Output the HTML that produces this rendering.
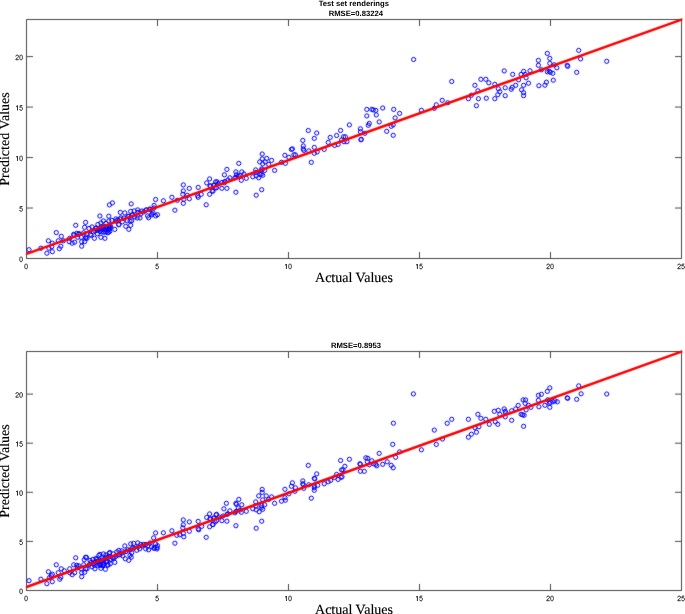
<!DOCTYPE html>
<html><head><meta charset="utf-8"><style>
html,body{margin:0;padding:0;background:#fff;width:685px;height:614px;overflow:hidden}
svg{display:block;will-change:transform;text-rendering:geometricPrecision}
</style></head><body>
<svg width="685" height="614" viewBox="0 0 685 614">
<defs><filter id="soft" x="0" y="0" width="685" height="614" filterUnits="userSpaceOnUse" color-interpolation-filters="sRGB"><feConvolveMatrix order="3" kernelMatrix="1 2 1 2 28 2 1 2 1" divisor="40" edgeMode="duplicate" preserveAlpha="true"/></filter></defs>
<g filter="url(#soft)">
<rect width="685" height="614" fill="#fff"/>
<path d="M26.5 19.5H681.5V258.5H26.5Z" fill="none" stroke="#4a4a4a" stroke-width="1"/>
<path d="M26.50 258.5v-6.5M26.50 19.5v6.5M157.50 258.5v-6.5M157.50 19.5v6.5M288.50 258.5v-6.5M288.50 19.5v6.5M419.50 258.5v-6.5M419.50 19.5v6.5M550.50 258.5v-6.5M550.50 19.5v6.5M681.50 258.5v-6.5M681.50 19.5v6.5M26.5 258.50h6.5M681.5 258.50h-6.5M26.5 208.03h6.5M681.5 208.03h-6.5M26.5 157.55h6.5M681.5 157.55h-6.5M26.5 107.07h6.5M681.5 107.07h-6.5M26.5 56.60h6.5M681.5 56.60h-6.5" fill="none" stroke="#4a4a4a" stroke-width="1"/>
<g fill="none" stroke="#0000ff" stroke-width="1.0"><circle cx="29.0" cy="249.7" r="2.1"/><circle cx="40.9" cy="248.2" r="2.1"/><circle cx="48.4" cy="240.8" r="2.1"/><circle cx="46.9" cy="253.2" r="2.1"/><circle cx="52.3" cy="251.7" r="2.1"/><circle cx="52.3" cy="243.2" r="2.1"/><circle cx="51.8" cy="246.7" r="2.1"/><circle cx="48.9" cy="248.2" r="2.1"/><circle cx="56.3" cy="232.6" r="2.1"/><circle cx="61.3" cy="236.3" r="2.1"/><circle cx="58.3" cy="240.8" r="2.1"/><circle cx="59.3" cy="248.7" r="2.1"/><circle cx="60.8" cy="246.2" r="2.1"/><circle cx="63.3" cy="240.8" r="2.1"/><circle cx="69.7" cy="238.3" r="2.1"/><circle cx="69.2" cy="241.7" r="2.1"/><circle cx="72.2" cy="243.2" r="2.1"/><circle cx="74.7" cy="242.2" r="2.1"/><circle cx="75.7" cy="225.3" r="2.1"/><circle cx="73.7" cy="234.3" r="2.1"/><circle cx="76.7" cy="233.3" r="2.1"/><circle cx="78.7" cy="234.3" r="2.1"/><circle cx="81.2" cy="237.3" r="2.1"/><circle cx="81.7" cy="241.7" r="2.1"/><circle cx="81.7" cy="246.2" r="2.1"/><circle cx="84.6" cy="241.7" r="2.1"/><circle cx="85.6" cy="222.4" r="2.1"/><circle cx="84.6" cy="227.3" r="2.1"/><circle cx="85.6" cy="238.3" r="2.1"/><circle cx="83.7" cy="232.8" r="2.1"/><circle cx="77.7" cy="237.3" r="2.1"/><circle cx="99.9" cy="216.0" r="2.1"/><circle cx="108.8" cy="216.2" r="2.1"/><circle cx="103.4" cy="220.9" r="2.1"/><circle cx="108.8" cy="220.9" r="2.1"/><circle cx="114.8" cy="229.4" r="2.1"/><circle cx="94.4" cy="238.3" r="2.1"/><circle cx="100.9" cy="237.3" r="2.1"/><circle cx="104.9" cy="238.3" r="2.1"/><circle cx="87.0" cy="238.3" r="2.1"/><circle cx="91.0" cy="235.3" r="2.1"/><circle cx="97.4" cy="233.8" r="2.1"/><circle cx="108.3" cy="232.3" r="2.1"/><circle cx="109.8" cy="228.4" r="2.1"/><circle cx="118.8" cy="224.4" r="2.1"/><circle cx="92.0" cy="226.9" r="2.1"/><circle cx="89.0" cy="228.4" r="2.1"/><circle cx="97.9" cy="224.4" r="2.1"/><circle cx="100.9" cy="222.9" r="2.1"/><circle cx="105.9" cy="223.4" r="2.1"/><circle cx="111.8" cy="220.4" r="2.1"/><circle cx="115.8" cy="218.9" r="2.1"/><circle cx="98.9" cy="228.9" r="2.1"/><circle cx="100.9" cy="229.9" r="2.1"/><circle cx="102.9" cy="228.4" r="2.1"/><circle cx="104.9" cy="229.4" r="2.1"/><circle cx="106.8" cy="227.9" r="2.1"/><circle cx="108.3" cy="229.9" r="2.1"/><circle cx="109.8" cy="231.4" r="2.1"/><circle cx="101.9" cy="231.9" r="2.1"/><circle cx="103.9" cy="232.3" r="2.1"/><circle cx="105.9" cy="231.9" r="2.1"/><circle cx="107.8" cy="232.8" r="2.1"/><circle cx="99.9" cy="231.4" r="2.1"/><circle cx="96.9" cy="230.4" r="2.1"/><circle cx="94.9" cy="230.9" r="2.1"/><circle cx="93.4" cy="231.9" r="2.1"/><circle cx="95.9" cy="228.4" r="2.1"/><circle cx="110.8" cy="226.9" r="2.1"/><circle cx="105.9" cy="226.4" r="2.1"/><circle cx="108.8" cy="226.4" r="2.1"/><circle cx="103.4" cy="226.9" r="2.1"/><circle cx="109.4" cy="204.9" r="2.1"/><circle cx="112.4" cy="202.9" r="2.1"/><circle cx="120.3" cy="212.4" r="2.1"/><circle cx="124.8" cy="212.9" r="2.1"/><circle cx="131.2" cy="203.9" r="2.1"/><circle cx="130.7" cy="211.4" r="2.1"/><circle cx="134.2" cy="210.9" r="2.1"/><circle cx="137.7" cy="209.9" r="2.1"/><circle cx="125.8" cy="226.3" r="2.1"/><circle cx="128.8" cy="229.3" r="2.1"/><circle cx="130.7" cy="225.3" r="2.1"/><circle cx="118.8" cy="224.8" r="2.1"/><circle cx="122.3" cy="221.8" r="2.1"/><circle cx="127.3" cy="220.8" r="2.1"/><circle cx="131.7" cy="220.8" r="2.1"/><circle cx="134.7" cy="216.9" r="2.1"/><circle cx="137.2" cy="218.0" r="2.1"/><circle cx="140.7" cy="213.9" r="2.1"/><circle cx="143.7" cy="211.9" r="2.1"/><circle cx="146.6" cy="209.9" r="2.1"/><circle cx="149.6" cy="209.4" r="2.1"/><circle cx="147.6" cy="215.9" r="2.1"/><circle cx="148.6" cy="217.8" r="2.1"/><circle cx="151.6" cy="214.9" r="2.1"/><circle cx="154.1" cy="205.4" r="2.1"/><circle cx="155.6" cy="199.5" r="2.1"/><circle cx="153.1" cy="212.9" r="2.1"/><circle cx="155.6" cy="215.9" r="2.1"/><circle cx="132.7" cy="214.9" r="2.1"/><circle cx="128.8" cy="216.4" r="2.1"/><circle cx="120.8" cy="217.8" r="2.1"/><circle cx="117.8" cy="219.8" r="2.1"/><circle cx="157.5" cy="214.7" r="2.1"/><circle cx="163.4" cy="200.8" r="2.1"/><circle cx="171.9" cy="197.3" r="2.1"/><circle cx="174.9" cy="210.2" r="2.1"/><circle cx="177.3" cy="200.3" r="2.1"/><circle cx="183.3" cy="184.9" r="2.1"/><circle cx="183.3" cy="190.9" r="2.1"/><circle cx="182.8" cy="194.3" r="2.1"/><circle cx="183.8" cy="199.3" r="2.1"/><circle cx="183.3" cy="203.3" r="2.1"/><circle cx="187.3" cy="195.3" r="2.1"/><circle cx="189.3" cy="188.4" r="2.1"/><circle cx="189.3" cy="198.8" r="2.1"/><circle cx="198.2" cy="187.4" r="2.1"/><circle cx="197.7" cy="195.8" r="2.1"/><circle cx="198.2" cy="197.3" r="2.1"/><circle cx="201.2" cy="194.3" r="2.1"/><circle cx="206.2" cy="204.8" r="2.1"/><circle cx="206.7" cy="182.9" r="2.1"/><circle cx="209.6" cy="178.9" r="2.1"/><circle cx="209.6" cy="194.3" r="2.1"/><circle cx="212.1" cy="190.9" r="2.1"/><circle cx="210.6" cy="185.9" r="2.1"/><circle cx="213.6" cy="185.4" r="2.1"/><circle cx="215.6" cy="181.9" r="2.1"/><circle cx="215.1" cy="187.9" r="2.1"/><circle cx="217.0" cy="181.8" r="2.1"/><circle cx="216.5" cy="187.8" r="2.1"/><circle cx="213.0" cy="191.2" r="2.1"/><circle cx="221.9" cy="188.3" r="2.1"/><circle cx="224.4" cy="182.8" r="2.1"/><circle cx="226.9" cy="188.3" r="2.1"/><circle cx="224.4" cy="174.8" r="2.1"/><circle cx="226.9" cy="169.4" r="2.1"/><circle cx="229.9" cy="177.8" r="2.1"/><circle cx="235.9" cy="192.2" r="2.1"/><circle cx="235.9" cy="171.9" r="2.1"/><circle cx="236.4" cy="174.8" r="2.1"/><circle cx="238.8" cy="163.4" r="2.1"/><circle cx="241.8" cy="171.9" r="2.1"/><circle cx="241.3" cy="180.3" r="2.1"/><circle cx="238.3" cy="176.3" r="2.1"/><circle cx="246.3" cy="178.3" r="2.1"/><circle cx="234.9" cy="177.8" r="2.1"/><circle cx="252.8" cy="176.8" r="2.1"/><circle cx="255.7" cy="169.9" r="2.1"/><circle cx="256.2" cy="175.8" r="2.1"/><circle cx="258.7" cy="177.8" r="2.1"/><circle cx="259.7" cy="161.9" r="2.1"/><circle cx="262.2" cy="154.0" r="2.1"/><circle cx="262.2" cy="158.9" r="2.1"/><circle cx="262.7" cy="163.9" r="2.1"/><circle cx="261.7" cy="168.9" r="2.1"/><circle cx="261.2" cy="174.3" r="2.1"/><circle cx="262.7" cy="175.3" r="2.1"/><circle cx="264.7" cy="170.4" r="2.1"/><circle cx="265.2" cy="161.9" r="2.1"/><circle cx="266.7" cy="158.4" r="2.1"/><circle cx="268.7" cy="164.4" r="2.1"/><circle cx="271.6" cy="160.4" r="2.1"/><circle cx="274.6" cy="170.4" r="2.1"/><circle cx="256.2" cy="195.2" r="2.1"/><circle cx="261.7" cy="189.7" r="2.1"/><circle cx="281.5" cy="162.3" r="2.1"/><circle cx="285.4" cy="163.3" r="2.1"/><circle cx="284.9" cy="155.3" r="2.1"/><circle cx="288.9" cy="157.3" r="2.1"/><circle cx="291.4" cy="149.4" r="2.1"/><circle cx="292.4" cy="148.9" r="2.1"/><circle cx="293.9" cy="154.8" r="2.1"/><circle cx="295.4" cy="154.8" r="2.1"/><circle cx="302.8" cy="140.4" r="2.1"/><circle cx="303.3" cy="145.9" r="2.1"/><circle cx="303.3" cy="148.9" r="2.1"/><circle cx="303.8" cy="150.4" r="2.1"/><circle cx="308.3" cy="130.5" r="2.1"/><circle cx="308.8" cy="150.9" r="2.1"/><circle cx="311.3" cy="162.3" r="2.1"/><circle cx="314.3" cy="138.4" r="2.1"/><circle cx="316.7" cy="133.0" r="2.1"/><circle cx="314.3" cy="147.4" r="2.1"/><circle cx="314.3" cy="153.3" r="2.1"/><circle cx="317.2" cy="151.9" r="2.1"/><circle cx="324.2" cy="149.4" r="2.1"/><circle cx="328.2" cy="142.4" r="2.1"/><circle cx="330.2" cy="137.4" r="2.1"/><circle cx="334.6" cy="145.4" r="2.1"/><circle cx="336.6" cy="135.5" r="2.1"/><circle cx="338.1" cy="144.4" r="2.1"/><circle cx="340.6" cy="130.5" r="2.1"/><circle cx="341.6" cy="139.9" r="2.1"/><circle cx="343.5" cy="136.8" r="2.1"/><circle cx="345.4" cy="136.8" r="2.1"/><circle cx="344.0" cy="141.7" r="2.1"/><circle cx="346.9" cy="141.7" r="2.1"/><circle cx="349.4" cy="124.9" r="2.1"/><circle cx="360.4" cy="128.8" r="2.1"/><circle cx="360.4" cy="131.8" r="2.1"/><circle cx="360.9" cy="139.8" r="2.1"/><circle cx="361.3" cy="139.3" r="2.1"/><circle cx="364.8" cy="133.3" r="2.1"/><circle cx="366.8" cy="109.4" r="2.1"/><circle cx="366.8" cy="115.9" r="2.1"/><circle cx="368.3" cy="125.3" r="2.1"/><circle cx="369.3" cy="123.4" r="2.1"/><circle cx="371.8" cy="109.4" r="2.1"/><circle cx="373.3" cy="109.9" r="2.1"/><circle cx="375.8" cy="110.4" r="2.1"/><circle cx="376.3" cy="114.9" r="2.1"/><circle cx="379.2" cy="121.9" r="2.1"/><circle cx="382.7" cy="108.0" r="2.1"/><circle cx="386.7" cy="131.3" r="2.1"/><circle cx="391.2" cy="126.3" r="2.1"/><circle cx="393.2" cy="124.9" r="2.1"/><circle cx="393.2" cy="135.3" r="2.1"/><circle cx="393.7" cy="109.4" r="2.1"/><circle cx="395.1" cy="117.9" r="2.1"/><circle cx="399.6" cy="113.4" r="2.1"/><circle cx="421.4" cy="110.3" r="2.1"/><circle cx="434.3" cy="108.3" r="2.1"/><circle cx="436.3" cy="104.8" r="2.1"/><circle cx="442.2" cy="100.3" r="2.1"/><circle cx="447.7" cy="102.8" r="2.1"/><circle cx="451.7" cy="81.5" r="2.1"/><circle cx="413.6" cy="59.5" r="2.1"/><circle cx="468.4" cy="98.7" r="2.1"/><circle cx="471.4" cy="95.2" r="2.1"/><circle cx="474.9" cy="85.3" r="2.1"/><circle cx="477.9" cy="90.8" r="2.1"/><circle cx="478.4" cy="98.7" r="2.1"/><circle cx="476.4" cy="105.7" r="2.1"/><circle cx="480.9" cy="79.3" r="2.1"/><circle cx="485.8" cy="79.3" r="2.1"/><circle cx="486.3" cy="98.2" r="2.1"/><circle cx="488.8" cy="82.8" r="2.1"/><circle cx="494.8" cy="84.3" r="2.1"/><circle cx="494.8" cy="98.7" r="2.1"/><circle cx="497.8" cy="94.7" r="2.1"/><circle cx="498.3" cy="88.8" r="2.1"/><circle cx="499.8" cy="91.7" r="2.1"/><circle cx="504.2" cy="70.9" r="2.1"/><circle cx="505.2" cy="87.8" r="2.1"/><circle cx="505.2" cy="95.7" r="2.1"/><circle cx="511.2" cy="89.3" r="2.1"/><circle cx="512.2" cy="87.3" r="2.1"/><circle cx="512.7" cy="74.4" r="2.1"/><circle cx="515.7" cy="85.3" r="2.1"/><circle cx="518.6" cy="79.8" r="2.1"/><circle cx="521.1" cy="74.4" r="2.1"/><circle cx="521.6" cy="89.8" r="2.1"/><circle cx="523.6" cy="71.4" r="2.1"/><circle cx="523.6" cy="85.3" r="2.1"/><circle cx="523.6" cy="92.7" r="2.1"/><circle cx="523.6" cy="95.7" r="2.1"/><circle cx="525.1" cy="74.4" r="2.1"/><circle cx="526.1" cy="77.8" r="2.1"/><circle cx="528.5" cy="83.2" r="2.1"/><circle cx="530.0" cy="70.8" r="2.1"/><circle cx="538.4" cy="60.4" r="2.1"/><circle cx="538.4" cy="65.3" r="2.1"/><circle cx="538.9" cy="85.7" r="2.1"/><circle cx="541.4" cy="69.8" r="2.1"/><circle cx="544.9" cy="85.2" r="2.1"/><circle cx="546.4" cy="82.2" r="2.1"/><circle cx="547.3" cy="53.4" r="2.1"/><circle cx="549.8" cy="58.4" r="2.1"/><circle cx="549.8" cy="63.3" r="2.1"/><circle cx="547.3" cy="71.8" r="2.1"/><circle cx="549.3" cy="71.3" r="2.1"/><circle cx="550.3" cy="72.3" r="2.1"/><circle cx="552.8" cy="73.3" r="2.1"/><circle cx="553.3" cy="80.2" r="2.1"/><circle cx="554.3" cy="64.8" r="2.1"/><circle cx="556.8" cy="67.8" r="2.1"/><circle cx="567.2" cy="65.3" r="2.1"/><circle cx="567.7" cy="66.3" r="2.1"/><circle cx="576.7" cy="72.3" r="2.1"/><circle cx="578.7" cy="50.4" r="2.1"/><circle cx="580.6" cy="58.9" r="2.1"/><circle cx="606.7" cy="61.3" r="2.1"/><circle cx="116.0" cy="221.0" r="2.1"/><circle cx="120.0" cy="219.0" r="2.1"/><circle cx="124.0" cy="218.0" r="2.1"/><circle cx="128.0" cy="216.4" r="2.1"/><circle cx="132.0" cy="215.0" r="2.1"/><circle cx="138.0" cy="212.4" r="2.1"/><circle cx="142.0" cy="211.0" r="2.1"/><circle cx="146.0" cy="210.0" r="2.1"/><circle cx="150.0" cy="209.0" r="2.1"/><circle cx="154.0" cy="208.0" r="2.1"/><circle cx="152.0" cy="214.0" r="2.1"/><circle cx="140.0" cy="218.0" r="2.1"/><circle cx="130.0" cy="221.0" r="2.1"/><circle cx="74.0" cy="235.0" r="2.1"/><circle cx="79.0" cy="233.6" r="2.1"/><circle cx="86.0" cy="237.0" r="2.1"/><circle cx="90.4" cy="234.4" r="2.1"/><circle cx="96.0" cy="228.0" r="2.1"/><circle cx="102.0" cy="227.0" r="2.1"/><circle cx="110.0" cy="226.0" r="2.1"/><circle cx="210.0" cy="186.0" r="2.1"/><circle cx="214.0" cy="185.4" r="2.1"/><circle cx="218.0" cy="183.6" r="2.1"/><circle cx="222.0" cy="182.4" r="2.1"/><circle cx="225.0" cy="181.4" r="2.1"/><circle cx="228.0" cy="180.0" r="2.1"/><circle cx="236.0" cy="177.4" r="2.1"/><circle cx="240.0" cy="175.6" r="2.1"/><circle cx="244.0" cy="174.0" r="2.1"/><circle cx="256.0" cy="172.4" r="2.1"/><circle cx="260.0" cy="174.4" r="2.1"/><circle cx="262.0" cy="170.0" r="2.1"/></g>
<clipPath id="c19"><rect x="25.8" y="17.5" width="656.8" height="241.5"/></clipPath>
<line clip-path="url(#c19)" x1="26.5" y1="253.9" x2="681.5" y2="19.6" stroke="#ff0000" stroke-width="2.6" stroke-linecap="round"/>
<path d="M26.5 351.5H681.5V590.5H26.5Z" fill="none" stroke="#4a4a4a" stroke-width="1"/>
<path d="M26.50 590.5v-6.5M26.50 351.5v6.5M157.50 590.5v-6.5M157.50 351.5v6.5M288.50 590.5v-6.5M288.50 351.5v6.5M419.50 590.5v-6.5M419.50 351.5v6.5M550.50 590.5v-6.5M550.50 351.5v6.5M681.50 590.5v-6.5M681.50 351.5v6.5M26.5 590.50h6.5M681.5 590.50h-6.5M26.5 541.40h6.5M681.5 541.40h-6.5M26.5 492.30h6.5M681.5 492.30h-6.5M26.5 443.20h6.5M681.5 443.20h-6.5M26.5 394.10h6.5M681.5 394.10h-6.5" fill="none" stroke="#4a4a4a" stroke-width="1"/>
<g fill="none" stroke="#0000ff" stroke-width="1.0"><circle cx="29.0" cy="580.7" r="2.1"/><circle cx="40.9" cy="579.2" r="2.1"/><circle cx="48.4" cy="571.8" r="2.1"/><circle cx="46.9" cy="583.7" r="2.1"/><circle cx="52.3" cy="581.7" r="2.1"/><circle cx="52.3" cy="574.2" r="2.1"/><circle cx="49.4" cy="577.7" r="2.1"/><circle cx="51.3" cy="575.7" r="2.1"/><circle cx="56.3" cy="564.8" r="2.1"/><circle cx="61.3" cy="568.8" r="2.1"/><circle cx="58.3" cy="572.7" r="2.1"/><circle cx="59.8" cy="579.2" r="2.1"/><circle cx="60.8" cy="577.2" r="2.1"/><circle cx="64.3" cy="570.8" r="2.1"/><circle cx="69.7" cy="568.8" r="2.1"/><circle cx="69.7" cy="572.7" r="2.1"/><circle cx="72.2" cy="574.7" r="2.1"/><circle cx="74.7" cy="572.7" r="2.1"/><circle cx="75.7" cy="557.8" r="2.1"/><circle cx="73.7" cy="564.8" r="2.1"/><circle cx="76.7" cy="565.3" r="2.1"/><circle cx="78.7" cy="565.8" r="2.1"/><circle cx="81.2" cy="568.8" r="2.1"/><circle cx="81.7" cy="572.7" r="2.1"/><circle cx="81.7" cy="576.7" r="2.1"/><circle cx="84.6" cy="572.3" r="2.1"/><circle cx="85.6" cy="557.3" r="2.1"/><circle cx="84.2" cy="559.8" r="2.1"/><circle cx="85.6" cy="568.8" r="2.1"/><circle cx="83.7" cy="564.8" r="2.1"/><circle cx="77.7" cy="567.8" r="2.1"/><circle cx="86.5" cy="557.4" r="2.1"/><circle cx="87.0" cy="568.8" r="2.1"/><circle cx="90.0" cy="560.4" r="2.1"/><circle cx="92.9" cy="559.4" r="2.1"/><circle cx="95.9" cy="558.4" r="2.1"/><circle cx="98.9" cy="555.4" r="2.1"/><circle cx="99.9" cy="554.4" r="2.1"/><circle cx="103.4" cy="553.9" r="2.1"/><circle cx="105.9" cy="554.9" r="2.1"/><circle cx="109.3" cy="553.4" r="2.1"/><circle cx="109.8" cy="552.4" r="2.1"/><circle cx="113.3" cy="553.9" r="2.1"/><circle cx="115.8" cy="556.4" r="2.1"/><circle cx="118.8" cy="550.4" r="2.1"/><circle cx="114.8" cy="562.4" r="2.1"/><circle cx="110.3" cy="563.8" r="2.1"/><circle cx="107.8" cy="564.8" r="2.1"/><circle cx="105.4" cy="569.3" r="2.1"/><circle cx="100.9" cy="568.3" r="2.1"/><circle cx="94.9" cy="568.8" r="2.1"/><circle cx="92.0" cy="566.8" r="2.1"/><circle cx="97.4" cy="565.3" r="2.1"/><circle cx="102.4" cy="565.8" r="2.1"/><circle cx="89.0" cy="564.8" r="2.1"/><circle cx="93.4" cy="563.8" r="2.1"/><circle cx="99.4" cy="563.8" r="2.1"/><circle cx="103.9" cy="562.9" r="2.1"/><circle cx="106.8" cy="561.4" r="2.1"/><circle cx="111.3" cy="559.4" r="2.1"/><circle cx="112.8" cy="557.9" r="2.1"/><circle cx="91.0" cy="562.4" r="2.1"/><circle cx="95.4" cy="561.9" r="2.1"/><circle cx="100.9" cy="560.9" r="2.1"/><circle cx="96.9" cy="559.4" r="2.1"/><circle cx="101.9" cy="557.9" r="2.1"/><circle cx="106.8" cy="557.4" r="2.1"/><circle cx="108.8" cy="556.4" r="2.1"/><circle cx="104.9" cy="558.9" r="2.1"/><circle cx="94.4" cy="565.3" r="2.1"/><circle cx="98.4" cy="561.9" r="2.1"/><circle cx="103.4" cy="564.8" r="2.1"/><circle cx="116.8" cy="551.9" r="2.1"/><circle cx="124.8" cy="545.9" r="2.1"/><circle cx="125.3" cy="558.8" r="2.1"/><circle cx="128.8" cy="560.3" r="2.1"/><circle cx="131.2" cy="557.3" r="2.1"/><circle cx="131.7" cy="552.8" r="2.1"/><circle cx="130.7" cy="543.9" r="2.1"/><circle cx="133.7" cy="543.4" r="2.1"/><circle cx="137.7" cy="542.9" r="2.1"/><circle cx="136.7" cy="550.3" r="2.1"/><circle cx="139.7" cy="548.8" r="2.1"/><circle cx="140.7" cy="544.4" r="2.1"/><circle cx="145.7" cy="548.8" r="2.1"/><circle cx="148.6" cy="549.8" r="2.1"/><circle cx="147.6" cy="546.4" r="2.1"/><circle cx="151.6" cy="546.9" r="2.1"/><circle cx="153.6" cy="537.9" r="2.1"/><circle cx="155.6" cy="532.9" r="2.1"/><circle cx="154.1" cy="548.3" r="2.1"/><circle cx="155.6" cy="543.9" r="2.1"/><circle cx="143.7" cy="544.4" r="2.1"/><circle cx="127.8" cy="549.8" r="2.1"/><circle cx="121.8" cy="550.8" r="2.1"/><circle cx="119.8" cy="554.8" r="2.1"/><circle cx="122.8" cy="555.8" r="2.1"/><circle cx="132.7" cy="547.9" r="2.1"/><circle cx="157.0" cy="547.7" r="2.1"/><circle cx="157.5" cy="545.7" r="2.1"/><circle cx="163.4" cy="532.8" r="2.1"/><circle cx="171.9" cy="530.8" r="2.1"/><circle cx="174.9" cy="543.2" r="2.1"/><circle cx="176.8" cy="535.3" r="2.1"/><circle cx="183.3" cy="519.9" r="2.1"/><circle cx="183.3" cy="524.8" r="2.1"/><circle cx="182.8" cy="527.8" r="2.1"/><circle cx="183.3" cy="533.3" r="2.1"/><circle cx="183.8" cy="536.8" r="2.1"/><circle cx="179.8" cy="534.8" r="2.1"/><circle cx="189.3" cy="521.9" r="2.1"/><circle cx="189.3" cy="531.3" r="2.1"/><circle cx="198.2" cy="521.4" r="2.1"/><circle cx="198.2" cy="528.8" r="2.1"/><circle cx="198.7" cy="529.8" r="2.1"/><circle cx="201.7" cy="526.3" r="2.1"/><circle cx="206.2" cy="537.3" r="2.1"/><circle cx="206.7" cy="517.4" r="2.1"/><circle cx="209.6" cy="513.9" r="2.1"/><circle cx="209.6" cy="526.8" r="2.1"/><circle cx="212.6" cy="524.3" r="2.1"/><circle cx="210.6" cy="518.9" r="2.1"/><circle cx="213.6" cy="518.4" r="2.1"/><circle cx="216.1" cy="514.9" r="2.1"/><circle cx="215.1" cy="521.9" r="2.1"/><circle cx="216.5" cy="514.3" r="2.1"/><circle cx="216.5" cy="520.7" r="2.1"/><circle cx="213.0" cy="524.7" r="2.1"/><circle cx="221.9" cy="520.7" r="2.1"/><circle cx="223.9" cy="508.8" r="2.1"/><circle cx="226.9" cy="521.2" r="2.1"/><circle cx="226.4" cy="503.3" r="2.1"/><circle cx="229.9" cy="510.8" r="2.1"/><circle cx="227.9" cy="513.8" r="2.1"/><circle cx="235.9" cy="525.7" r="2.1"/><circle cx="235.9" cy="503.3" r="2.1"/><circle cx="236.4" cy="504.3" r="2.1"/><circle cx="238.8" cy="499.4" r="2.1"/><circle cx="241.8" cy="504.8" r="2.1"/><circle cx="241.3" cy="512.3" r="2.1"/><circle cx="238.3" cy="507.8" r="2.1"/><circle cx="246.3" cy="511.3" r="2.1"/><circle cx="234.9" cy="512.8" r="2.1"/><circle cx="252.8" cy="508.8" r="2.1"/><circle cx="255.7" cy="501.9" r="2.1"/><circle cx="256.2" cy="509.8" r="2.1"/><circle cx="259.2" cy="511.8" r="2.1"/><circle cx="258.7" cy="495.9" r="2.1"/><circle cx="262.2" cy="489.4" r="2.1"/><circle cx="262.2" cy="492.4" r="2.1"/><circle cx="262.7" cy="499.9" r="2.1"/><circle cx="261.7" cy="505.8" r="2.1"/><circle cx="261.2" cy="507.8" r="2.1"/><circle cx="262.7" cy="509.3" r="2.1"/><circle cx="264.7" cy="504.8" r="2.1"/><circle cx="266.2" cy="495.9" r="2.1"/><circle cx="268.7" cy="499.4" r="2.1"/><circle cx="271.6" cy="496.9" r="2.1"/><circle cx="274.6" cy="503.3" r="2.1"/><circle cx="256.2" cy="528.2" r="2.1"/><circle cx="261.7" cy="521.2" r="2.1"/><circle cx="281.5" cy="501.2" r="2.1"/><circle cx="284.9" cy="497.7" r="2.1"/><circle cx="285.4" cy="500.2" r="2.1"/><circle cx="284.9" cy="489.3" r="2.1"/><circle cx="288.9" cy="493.8" r="2.1"/><circle cx="291.4" cy="486.3" r="2.1"/><circle cx="292.4" cy="482.8" r="2.1"/><circle cx="294.9" cy="491.3" r="2.1"/><circle cx="295.4" cy="487.8" r="2.1"/><circle cx="302.8" cy="480.9" r="2.1"/><circle cx="302.8" cy="483.8" r="2.1"/><circle cx="303.3" cy="484.8" r="2.1"/><circle cx="303.8" cy="488.3" r="2.1"/><circle cx="308.3" cy="465.4" r="2.1"/><circle cx="308.8" cy="484.8" r="2.1"/><circle cx="311.3" cy="498.2" r="2.1"/><circle cx="314.3" cy="478.4" r="2.1"/><circle cx="314.8" cy="478.9" r="2.1"/><circle cx="316.7" cy="473.9" r="2.1"/><circle cx="314.3" cy="485.8" r="2.1"/><circle cx="314.3" cy="487.8" r="2.1"/><circle cx="314.3" cy="490.3" r="2.1"/><circle cx="317.7" cy="485.3" r="2.1"/><circle cx="324.2" cy="483.8" r="2.1"/><circle cx="328.2" cy="481.8" r="2.1"/><circle cx="330.7" cy="480.4" r="2.1"/><circle cx="334.6" cy="477.4" r="2.1"/><circle cx="336.6" cy="474.4" r="2.1"/><circle cx="338.1" cy="479.4" r="2.1"/><circle cx="340.6" cy="460.5" r="2.1"/><circle cx="341.6" cy="469.9" r="2.1"/><circle cx="341.1" cy="477.4" r="2.1"/><circle cx="343.0" cy="469.8" r="2.1"/><circle cx="344.9" cy="466.3" r="2.1"/><circle cx="342.0" cy="476.7" r="2.1"/><circle cx="349.4" cy="459.3" r="2.1"/><circle cx="359.9" cy="463.8" r="2.1"/><circle cx="360.4" cy="464.3" r="2.1"/><circle cx="360.4" cy="471.3" r="2.1"/><circle cx="364.3" cy="471.3" r="2.1"/><circle cx="365.8" cy="457.8" r="2.1"/><circle cx="367.8" cy="458.3" r="2.1"/><circle cx="367.3" cy="461.8" r="2.1"/><circle cx="369.3" cy="464.8" r="2.1"/><circle cx="371.8" cy="460.8" r="2.1"/><circle cx="373.8" cy="463.8" r="2.1"/><circle cx="375.8" cy="464.3" r="2.1"/><circle cx="376.8" cy="465.8" r="2.1"/><circle cx="379.2" cy="453.4" r="2.1"/><circle cx="382.7" cy="464.3" r="2.1"/><circle cx="387.2" cy="461.8" r="2.1"/><circle cx="391.2" cy="465.3" r="2.1"/><circle cx="393.2" cy="467.8" r="2.1"/><circle cx="392.7" cy="444.4" r="2.1"/><circle cx="395.6" cy="457.3" r="2.1"/><circle cx="399.6" cy="451.9" r="2.1"/><circle cx="413.4" cy="393.9" r="2.1"/><circle cx="434.3" cy="430.1" r="2.1"/><circle cx="447.2" cy="423.3" r="2.1"/><circle cx="451.7" cy="419.3" r="2.1"/><circle cx="442.5" cy="439.0" r="2.1"/><circle cx="421.4" cy="449.8" r="2.1"/><circle cx="436.3" cy="444.4" r="2.1"/><circle cx="468.4" cy="419.3" r="2.1"/><circle cx="468.4" cy="437.2" r="2.1"/><circle cx="471.4" cy="434.2" r="2.1"/><circle cx="474.9" cy="427.7" r="2.1"/><circle cx="476.4" cy="432.2" r="2.1"/><circle cx="478.9" cy="426.7" r="2.1"/><circle cx="477.9" cy="414.3" r="2.1"/><circle cx="480.9" cy="418.3" r="2.1"/><circle cx="485.8" cy="419.3" r="2.1"/><circle cx="489.3" cy="424.3" r="2.1"/><circle cx="494.3" cy="411.3" r="2.1"/><circle cx="495.3" cy="421.8" r="2.1"/><circle cx="497.8" cy="424.3" r="2.1"/><circle cx="498.3" cy="410.3" r="2.1"/><circle cx="499.8" cy="414.3" r="2.1"/><circle cx="504.2" cy="408.9" r="2.1"/><circle cx="505.2" cy="411.3" r="2.1"/><circle cx="505.7" cy="412.8" r="2.1"/><circle cx="505.2" cy="416.8" r="2.1"/><circle cx="511.7" cy="410.8" r="2.1"/><circle cx="511.7" cy="420.3" r="2.1"/><circle cx="515.7" cy="408.9" r="2.1"/><circle cx="518.2" cy="405.4" r="2.1"/><circle cx="521.1" cy="414.3" r="2.1"/><circle cx="522.6" cy="414.8" r="2.1"/><circle cx="524.1" cy="415.3" r="2.1"/><circle cx="523.6" cy="426.3" r="2.1"/><circle cx="523.1" cy="399.9" r="2.1"/><circle cx="525.6" cy="399.9" r="2.1"/><circle cx="525.1" cy="403.4" r="2.1"/><circle cx="526.1" cy="409.9" r="2.1"/><circle cx="528.5" cy="405.3" r="2.1"/><circle cx="530.9" cy="407.3" r="2.1"/><circle cx="538.4" cy="395.3" r="2.1"/><circle cx="541.4" cy="394.3" r="2.1"/><circle cx="538.4" cy="400.3" r="2.1"/><circle cx="538.9" cy="406.8" r="2.1"/><circle cx="544.9" cy="405.3" r="2.1"/><circle cx="547.3" cy="391.4" r="2.1"/><circle cx="549.8" cy="387.9" r="2.1"/><circle cx="547.8" cy="399.8" r="2.1"/><circle cx="549.3" cy="403.3" r="2.1"/><circle cx="549.8" cy="407.3" r="2.1"/><circle cx="550.3" cy="402.3" r="2.1"/><circle cx="552.8" cy="401.8" r="2.1"/><circle cx="554.8" cy="400.8" r="2.1"/><circle cx="557.3" cy="401.8" r="2.1"/><circle cx="567.2" cy="397.8" r="2.1"/><circle cx="567.7" cy="398.3" r="2.1"/><circle cx="576.7" cy="399.3" r="2.1"/><circle cx="578.7" cy="385.9" r="2.1"/><circle cx="581.1" cy="393.8" r="2.1"/><circle cx="606.7" cy="394.0" r="2.1"/><circle cx="94.0" cy="563.0" r="2.1"/><circle cx="98.0" cy="561.0" r="2.1"/><circle cx="102.0" cy="560.0" r="2.1"/><circle cx="106.0" cy="562.0" r="2.1"/><circle cx="110.0" cy="560.0" r="2.1"/><circle cx="114.0" cy="558.0" r="2.1"/><circle cx="104.0" cy="564.4" r="2.1"/><circle cx="108.0" cy="565.2" r="2.1"/><circle cx="100.0" cy="565.4" r="2.1"/><circle cx="118.0" cy="555.0" r="2.1"/><circle cx="122.0" cy="553.0" r="2.1"/><circle cx="126.0" cy="551.6" r="2.1"/><circle cx="130.0" cy="550.0" r="2.1"/><circle cx="134.0" cy="548.0" r="2.1"/><circle cx="138.0" cy="547.0" r="2.1"/><circle cx="142.0" cy="546.0" r="2.1"/><circle cx="146.0" cy="544.4" r="2.1"/><circle cx="150.0" cy="543.0" r="2.1"/><circle cx="154.0" cy="548.0" r="2.1"/><circle cx="157.0" cy="549.0" r="2.1"/><circle cx="130.0" cy="555.4" r="2.1"/><circle cx="210.0" cy="519.0" r="2.1"/><circle cx="214.0" cy="518.0" r="2.1"/><circle cx="219.0" cy="517.0" r="2.1"/><circle cx="223.0" cy="516.0" r="2.1"/><circle cx="227.0" cy="514.4" r="2.1"/><circle cx="236.0" cy="511.4" r="2.1"/><circle cx="240.0" cy="510.0" r="2.1"/><circle cx="256.0" cy="506.0" r="2.1"/><circle cx="393.4" cy="423.2" r="2.1"/></g>
<clipPath id="c351"><rect x="25.8" y="349.5" width="656.8" height="241.5"/></clipPath>
<line clip-path="url(#c351)" x1="26.5" y1="587.0" x2="681.5" y2="351.6" stroke="#ff0000" stroke-width="2.6" stroke-linecap="round"/>
</g>
<g transform="translate(26.10 269.00) scale(0.00690 -0.00750)" fill="none" stroke="#262626" stroke-width="133.3" stroke-linejoin="round"><path transform="translate(-278 0)" d="M278 668 C125 668 82 530 82 342 C82 154 125 16 278 16 C431 16 474 154 474 342 C474 530 431 668 278 668 Z"/></g><g transform="translate(157.10 269.00) scale(0.00690 -0.00750)" fill="none" stroke="#262626" stroke-width="133.3" stroke-linejoin="round"><path transform="translate(-278 0)" d="M470 650 L150 650 L110 380 C160 430 220 450 280 450 C420 450 490 360 490 240 C490 100 400 20 270 20 C150 20 70 90 60 180"/></g><g transform="translate(288.10 269.00) scale(0.00690 -0.00750)" fill="none" stroke="#262626" stroke-width="133.3" stroke-linejoin="round"><path transform="translate(-556 0)" d="M312 0 L312 660 M312 660 C290 580 230 540 110 530"/><path transform="translate(0 0)" d="M278 668 C125 668 82 530 82 342 C82 154 125 16 278 16 C431 16 474 154 474 342 C474 530 431 668 278 668 Z"/></g><g transform="translate(419.10 269.00) scale(0.00690 -0.00750)" fill="none" stroke="#262626" stroke-width="133.3" stroke-linejoin="round"><path transform="translate(-556 0)" d="M312 0 L312 660 M312 660 C290 580 230 540 110 530"/><path transform="translate(0 0)" d="M470 650 L150 650 L110 380 C160 430 220 450 280 450 C420 450 490 360 490 240 C490 100 400 20 270 20 C150 20 70 90 60 180"/></g><g transform="translate(550.10 269.00) scale(0.00690 -0.00750)" fill="none" stroke="#262626" stroke-width="133.3" stroke-linejoin="round"><path transform="translate(-556 0)" d="M68 470 C68 600 160 665 280 665 C400 665 475 590 475 490 C475 400 420 350 300 290 C160 215 80 150 70 38 L490 38"/><path transform="translate(0 0)" d="M278 668 C125 668 82 530 82 342 C82 154 125 16 278 16 C431 16 474 154 474 342 C474 530 431 668 278 668 Z"/></g><g transform="translate(681.10 269.00) scale(0.00690 -0.00750)" fill="none" stroke="#262626" stroke-width="133.3" stroke-linejoin="round"><path transform="translate(-556 0)" d="M68 470 C68 600 160 665 280 665 C400 665 475 590 475 490 C475 400 420 350 300 290 C160 215 80 150 70 38 L490 38"/><path transform="translate(0 0)" d="M470 650 L150 650 L110 380 C160 430 220 450 280 450 C420 450 490 360 490 240 C490 100 400 20 270 20 C150 20 70 90 60 180"/></g><g transform="translate(23.00 261.90) scale(0.00690 -0.00750)" fill="none" stroke="#262626" stroke-width="133.3" stroke-linejoin="round"><path transform="translate(-556 0)" d="M278 668 C125 668 82 530 82 342 C82 154 125 16 278 16 C431 16 474 154 474 342 C474 530 431 668 278 668 Z"/></g><g transform="translate(23.00 211.43) scale(0.00690 -0.00750)" fill="none" stroke="#262626" stroke-width="133.3" stroke-linejoin="round"><path transform="translate(-556 0)" d="M470 650 L150 650 L110 380 C160 430 220 450 280 450 C420 450 490 360 490 240 C490 100 400 20 270 20 C150 20 70 90 60 180"/></g><g transform="translate(23.00 160.95) scale(0.00690 -0.00750)" fill="none" stroke="#262626" stroke-width="133.3" stroke-linejoin="round"><path transform="translate(-1112 0)" d="M312 0 L312 660 M312 660 C290 580 230 540 110 530"/><path transform="translate(-556 0)" d="M278 668 C125 668 82 530 82 342 C82 154 125 16 278 16 C431 16 474 154 474 342 C474 530 431 668 278 668 Z"/></g><g transform="translate(23.00 110.47) scale(0.00690 -0.00750)" fill="none" stroke="#262626" stroke-width="133.3" stroke-linejoin="round"><path transform="translate(-1112 0)" d="M312 0 L312 660 M312 660 C290 580 230 540 110 530"/><path transform="translate(-556 0)" d="M470 650 L150 650 L110 380 C160 430 220 450 280 450 C420 450 490 360 490 240 C490 100 400 20 270 20 C150 20 70 90 60 180"/></g><g transform="translate(23.00 60.00) scale(0.00690 -0.00750)" fill="none" stroke="#262626" stroke-width="133.3" stroke-linejoin="round"><path transform="translate(-1112 0)" d="M68 470 C68 600 160 665 280 665 C400 665 475 590 475 490 C475 400 420 350 300 290 C160 215 80 150 70 38 L490 38"/><path transform="translate(-556 0)" d="M278 668 C125 668 82 530 82 342 C82 154 125 16 278 16 C431 16 474 154 474 342 C474 530 431 668 278 668 Z"/></g>
<g font-family="Liberation Sans" font-size="7.7" font-weight="bold" fill="#000"><text x="353.85" y="5.8" text-anchor="middle">Test set renderings</text><text x="355.9" y="15.8" text-anchor="middle">RMSE=0.83224</text></g>
<text x="354" y="281.8" text-anchor="middle" font-family="Liberation Serif" font-size="14" fill="#000" stroke="#000" stroke-width="0.15">Actual Values</text>
<text transform="translate(8.8 139) rotate(-90)" x="0" y="0" text-anchor="middle" font-family="Liberation Serif" font-size="14" fill="#000" stroke="#000" stroke-width="0.15">Predicted Values</text>
<g transform="translate(26.10 601.00) scale(0.00690 -0.00750)" fill="none" stroke="#262626" stroke-width="133.3" stroke-linejoin="round"><path transform="translate(-278 0)" d="M278 668 C125 668 82 530 82 342 C82 154 125 16 278 16 C431 16 474 154 474 342 C474 530 431 668 278 668 Z"/></g><g transform="translate(157.10 601.00) scale(0.00690 -0.00750)" fill="none" stroke="#262626" stroke-width="133.3" stroke-linejoin="round"><path transform="translate(-278 0)" d="M470 650 L150 650 L110 380 C160 430 220 450 280 450 C420 450 490 360 490 240 C490 100 400 20 270 20 C150 20 70 90 60 180"/></g><g transform="translate(288.10 601.00) scale(0.00690 -0.00750)" fill="none" stroke="#262626" stroke-width="133.3" stroke-linejoin="round"><path transform="translate(-556 0)" d="M312 0 L312 660 M312 660 C290 580 230 540 110 530"/><path transform="translate(0 0)" d="M278 668 C125 668 82 530 82 342 C82 154 125 16 278 16 C431 16 474 154 474 342 C474 530 431 668 278 668 Z"/></g><g transform="translate(419.10 601.00) scale(0.00690 -0.00750)" fill="none" stroke="#262626" stroke-width="133.3" stroke-linejoin="round"><path transform="translate(-556 0)" d="M312 0 L312 660 M312 660 C290 580 230 540 110 530"/><path transform="translate(0 0)" d="M470 650 L150 650 L110 380 C160 430 220 450 280 450 C420 450 490 360 490 240 C490 100 400 20 270 20 C150 20 70 90 60 180"/></g><g transform="translate(550.10 601.00) scale(0.00690 -0.00750)" fill="none" stroke="#262626" stroke-width="133.3" stroke-linejoin="round"><path transform="translate(-556 0)" d="M68 470 C68 600 160 665 280 665 C400 665 475 590 475 490 C475 400 420 350 300 290 C160 215 80 150 70 38 L490 38"/><path transform="translate(0 0)" d="M278 668 C125 668 82 530 82 342 C82 154 125 16 278 16 C431 16 474 154 474 342 C474 530 431 668 278 668 Z"/></g><g transform="translate(681.10 601.00) scale(0.00690 -0.00750)" fill="none" stroke="#262626" stroke-width="133.3" stroke-linejoin="round"><path transform="translate(-556 0)" d="M68 470 C68 600 160 665 280 665 C400 665 475 590 475 490 C475 400 420 350 300 290 C160 215 80 150 70 38 L490 38"/><path transform="translate(0 0)" d="M470 650 L150 650 L110 380 C160 430 220 450 280 450 C420 450 490 360 490 240 C490 100 400 20 270 20 C150 20 70 90 60 180"/></g><g transform="translate(23.00 593.90) scale(0.00690 -0.00750)" fill="none" stroke="#262626" stroke-width="133.3" stroke-linejoin="round"><path transform="translate(-556 0)" d="M278 668 C125 668 82 530 82 342 C82 154 125 16 278 16 C431 16 474 154 474 342 C474 530 431 668 278 668 Z"/></g><g transform="translate(23.00 544.80) scale(0.00690 -0.00750)" fill="none" stroke="#262626" stroke-width="133.3" stroke-linejoin="round"><path transform="translate(-556 0)" d="M470 650 L150 650 L110 380 C160 430 220 450 280 450 C420 450 490 360 490 240 C490 100 400 20 270 20 C150 20 70 90 60 180"/></g><g transform="translate(23.00 495.70) scale(0.00690 -0.00750)" fill="none" stroke="#262626" stroke-width="133.3" stroke-linejoin="round"><path transform="translate(-1112 0)" d="M312 0 L312 660 M312 660 C290 580 230 540 110 530"/><path transform="translate(-556 0)" d="M278 668 C125 668 82 530 82 342 C82 154 125 16 278 16 C431 16 474 154 474 342 C474 530 431 668 278 668 Z"/></g><g transform="translate(23.00 446.60) scale(0.00690 -0.00750)" fill="none" stroke="#262626" stroke-width="133.3" stroke-linejoin="round"><path transform="translate(-1112 0)" d="M312 0 L312 660 M312 660 C290 580 230 540 110 530"/><path transform="translate(-556 0)" d="M470 650 L150 650 L110 380 C160 430 220 450 280 450 C420 450 490 360 490 240 C490 100 400 20 270 20 C150 20 70 90 60 180"/></g><g transform="translate(23.00 397.50) scale(0.00690 -0.00750)" fill="none" stroke="#262626" stroke-width="133.3" stroke-linejoin="round"><path transform="translate(-1112 0)" d="M68 470 C68 600 160 665 280 665 C400 665 475 590 475 490 C475 400 420 350 300 290 C160 215 80 150 70 38 L490 38"/><path transform="translate(-556 0)" d="M278 668 C125 668 82 530 82 342 C82 154 125 16 278 16 C431 16 474 154 474 342 C474 530 431 668 278 668 Z"/></g>
<g font-family="Liberation Sans" font-size="7.7" font-weight="bold" fill="#000"><text x="356" y="347.8" text-anchor="middle">RMSE=0.8953</text></g>
<text x="354" y="613.8" text-anchor="middle" font-family="Liberation Serif" font-size="14" fill="#000" stroke="#000" stroke-width="0.15">Actual Values</text>
<text transform="translate(8.8 471) rotate(-90)" x="0" y="0" text-anchor="middle" font-family="Liberation Serif" font-size="14" fill="#000" stroke="#000" stroke-width="0.15">Predicted Values</text>
</svg>
</body></html>
